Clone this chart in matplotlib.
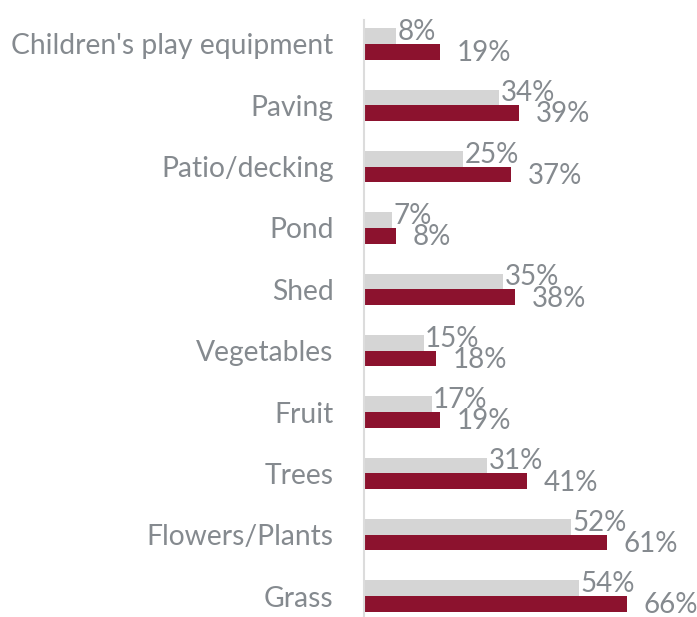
import matplotlib
matplotlib.use("Agg")
import matplotlib.pyplot as plt
import numpy as np

plt.rcParams['font.family'] = ['Lato', 'DejaVu Sans']

categories = ["Children's play equipment", "Paving", "Patio/decking", "Pond", "Shed",
              "Vegetables", "Fruit", "Trees", "Flowers/Plants", "Grass"]
grey_vals = [8, 34, 25, 7, 35, 15, 17, 31, 52, 54]
red_vals = [19, 39, 37, 8, 38, 18, 19, 41, 61, 66]

GREY = "#d5d5d5"
RED = "#8c122e"
TEXT = "#858a8f"

fig = plt.figure(figsize=(6.97, 6.17), dpi=100)
ax = fig.add_axes([364 / 697, 0, 1 - 364 / 697, 1 - 20 / 617])

y = np.arange(len(categories))
h = 0.255
ax.barh(y - h / 2, grey_vals, height=h, color=GREY)
ax.barh(y + h / 2, red_vals, height=h, color=RED)

for yi, g, r in zip(y, grey_vals, red_vals):
    ax.annotate(f"{g}%", (g, yi - h / 2), xytext=(1, 3), textcoords="offset points",
                ha="left", va="center", fontsize=20, color=TEXT)
    ax.annotate(f"{r}%", (r, yi + h / 2), xytext=(12, -1), textcoords="offset points",
                ha="left", va="center", fontsize=20, color=TEXT)

ax.set_xlim(0, 83.7)
ax.set_ylim(9.34, -0.39)
ax.set_yticks(y)
ax.set_yticklabels(categories, fontsize=20.3, color=TEXT)
ax.tick_params(axis="y", length=0, pad=22)
ax.set_xticks([])
for s in ["top", "right", "bottom"]:
    ax.spines[s].set_visible(False)
ax.spines["left"].set_color("#dcdcdc")
ax.spines["left"].set_linewidth(1.5)

fig.savefig("out.png", dpi=100)
